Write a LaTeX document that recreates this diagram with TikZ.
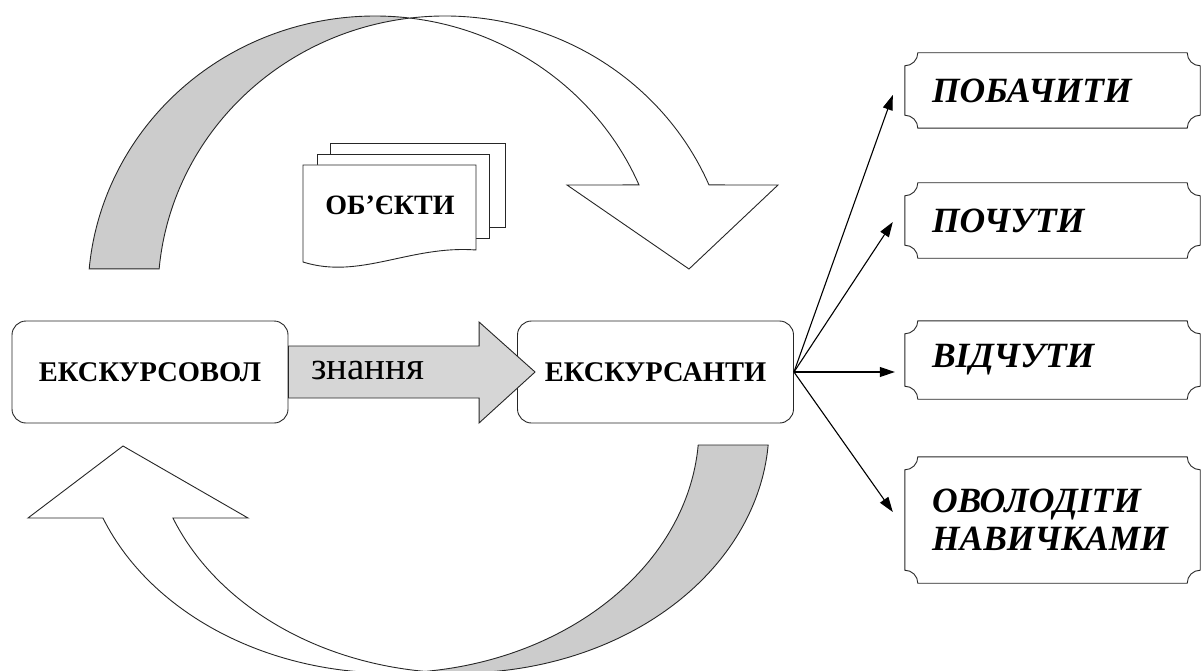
\documentclass[tikz,border=0pt]{standalone}
\usepackage{fontspec}
\setmainfont{Liberation Serif}
\usetikzlibrary{calc,arrows.meta}
\definecolor{bandgray}{HTML}{CCCCCC}
\definecolor{arrowgray}{HTML}{D6D6D6}
\definecolor{edge}{HTML}{262626}
\tikzset{
  outline/.style={draw=edge, line width=0.9pt, line join=miter},
  band/.style={outline, fill=bandgray},
  blank/.style={outline, fill=white},
  mainbox/.style={draw=edge, line width=0.9pt, fill=white, rounded corners=14pt,
    minimum width=276pt, minimum height=102pt, inner sep=0pt,
    font=\bfseries\fontsize{28.5}{33}\selectfont},
  plaque/.style={minimum height=#1, text width=241pt, inner xsep=27pt, inner ysep=0pt,
    align=left, font=\bfseries\itshape\fontsize{35.5}{38}\selectfont},
  link/.style={-{Triangle[length=15pt,width=10pt]}, line width=1.1pt, black},
}
\newcommand\plaqueframe[1]{%
  \draw[outline] ($(#1.north west)+(13,0)$) -- ($(#1.north east)+(-13,0)$)
    arc[start angle=180,end angle=90,radius=13]
    -- ($(#1.south east)+(0,-13)$) arc[start angle=270,end angle=180,radius=13]
    -- ($(#1.south west)+(13,0)$) arc[start angle=0,end angle=-90,radius=13]
    -- ($(#1.north west)+(0,13)$) arc[start angle=90,end angle=0,radius=13] -- cycle;}
\begin{document}
\begin{tikzpicture}[x=1pt,y=1pt,yscale=-1]
\useasboundingbox (0,0) rectangle (1201,671);
\clip (0,0) rectangle (1201,671);

% top curved arrow
\draw[band] ($(375,294)+(185.2:287 and 278)$)
  arc[start angle=185.2,end angle=277,x radius=287,y radius=278]
  arc[start angle=263,end angle=185.2,x radius=287,y radius=278] -- cycle;
\draw[blank] ($(445,294)+(263:287 and 278)$)
  arc[start angle=263,end angle=336.9,x radius=287,y radius=278]
  -- (778,185) -- (689,269) -- (567,185) -- ($(375,294)+(336.9:287 and 278)$)
  arc[start angle=336.9,end angle=277,x radius=287,y radius=278] -- cycle;

% bottom curved arrow
\draw[band] ($(460,427)+(4.2:309 and 246)$)
  arc[start angle=4.2,end angle=96.5,x radius=309,y radius=246]
  arc[start angle=83.5,end angle=4.2,x radius=309,y radius=246] -- cycle;
\draw[blank] ($(390,427)+(83.5:309 and 246)$)
  arc[start angle=83.5,end angle=158.3,x radius=309,y radius=246]
  -- (28,518) -- (123,446) -- (248,518) -- ($(460,427)+(158.3:309 and 246)$)
  arc[start angle=158.3,end angle=96.5,x radius=309,y radius=246] -- cycle;

% objects (multi-document)
\draw[blank] (330,143) rectangle (505,227);
\draw[blank] (317,154) rectangle (489,238);
\draw[blank] (303,165) -- (476,165) -- (476,250)
  .. controls (410,245) and (360,280) .. (303,262) -- cycle;
\node[font=\bfseries\fontsize{28}{32}\selectfont] (obj) at (390,205) {ОБ’ЄКТИ};

% main boxes
\node[mainbox] (guide) at (150,372) {ЕКСКУРСОВОЛ};
\node[mainbox] (tourists) at (655.5,372) {ЕКСКУРСАНТИ};

% knowledge arrow
\draw[outline, fill=arrowgray] ($(guide.east)+(0,-26)$) -- ($(tourists.west)+(-38,-26)$)
  -- ($(tourists.west)+(-38,-50)$) -- ($(tourists.west)+(18,0)$)
  -- ($(tourists.west)+(-38,51)$) -- ($(tourists.west)+(-38,26)$)
  -- ($(guide.east)+(0,26)$) -- cycle;
\node[font=\fontsize{39}{44}\selectfont, inner sep=0pt] (know) at (368,370) {знання};

% plaques
\node[plaque=75pt] (p1) at (1052.5,90.5) {ПОБАЧИТИ};
\node[plaque=75pt] (p2) at (1052.5,220.5) {ПОЧУТИ};
\node[plaque=78pt] (p3) at (1052.5,360) {ВІДЧУТИ};
\node[plaque=126pt] (p4) at (1052.5,520) {ОВОЛОДІТИ\\НАВИЧКАМИ};
\plaqueframe{p1}
\plaqueframe{p2}
\plaqueframe{p3}
\plaqueframe{p4}

% connectors
\draw[link] (tourists.east) -- ($(p1.west)+(-12,4.5)$);
\draw[link] (tourists.east) -- ($(p2.west)+(-12,1.5)$);
\draw[link] (tourists.east) -- ($(p3.west)+(-10,12)$);
\draw[link] (tourists.east) -- ($(p4.west)+(-12,-8)$);
\end{tikzpicture}
\end{document}
